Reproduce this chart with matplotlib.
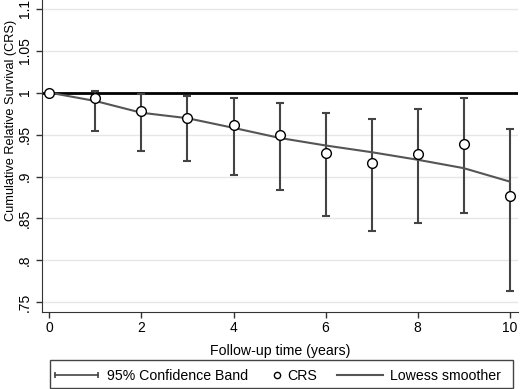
import matplotlib
matplotlib.use('Agg')
import matplotlib.pyplot as plt
from matplotlib.lines import Line2D
from matplotlib.patches import Rectangle
from matplotlib.ticker import FuncFormatter

plt.rcParams['font.family'] = ['Liberation Sans', 'DejaVu Sans']

# data
years = [0, 1, 2, 3, 4, 5, 6, 7, 8, 9, 10]
crs = [1.0, 0.993, 0.978, 0.970, 0.961, 0.950, 0.928, 0.916, 0.927, 0.939, 0.877]
ci_low = [1.0, 0.954, 0.931, 0.918, 0.902, 0.884, 0.853, 0.835, 0.845, 0.856, 0.763]
ci_high = [1.0, 1.002, 0.998, 0.9965, 0.993, 0.988, 0.976, 0.969, 0.981, 0.994, 0.957]
lowess = [1.0, 0.990, 0.976, 0.9695, 0.958, 0.946, 0.937, 0.929, 0.920, 0.910, 0.894]
yticks = [0.75, 0.8, 0.85, 0.9, 0.95, 1.0, 1.05, 1.1]
xticks = [0, 2, 4, 6, 8, 10]
legend_labels = ['95% Confidence Band', 'CRS', 'Lowess smoother']

W, H = 520, 389
fig = plt.figure(figsize=(W / 100, H / 100), dpi=100)
ax = fig.add_axes([0.080, 0.199, 0.916, 0.801])

for y in yticks:
    ax.axhline(y, color='#e6e6e6', lw=1, zorder=0)

ax.axhline(1.0, color='black', lw=2, zorder=2)

err_lo = [c - l for c, l in zip(crs, ci_low)]
err_hi = [h - c for c, h in zip(crs, ci_high)]
ax.errorbar(years[1:], crs[1:], yerr=[err_lo[1:], err_hi[1:]], fmt='none',
            ecolor='#444444', elinewidth=1.5, capsize=3, capthick=1.5, zorder=3)
ax.plot(years, lowess, color='#555555', lw=1.5, zorder=4)
ax.plot(years, crs, 'o', mfc='white', mec='black', mew=1.0, ms=7, zorder=5)

ax.set_xlim(-0.17, 10.18)
ax.set_ylim(0.739, 1.1104)
ax.set_xticks(xticks)
ax.set_yticks(yticks)

def fmt(v, pos):
    s = ('%.2f' % v).rstrip('0').rstrip('.')
    if s.startswith('0'):
        s = s[1:]
    return s

ax.yaxis.set_major_formatter(FuncFormatter(fmt))
for lab in ax.get_yticklabels():
    lab.set_rotation(90)
    lab.set_va('center')
ax.tick_params(axis='both', labelsize=10, color='#333333', length=4, width=1)
ax.tick_params(axis='y', pad=3)
ax.tick_params(axis='x', pad=3)

for s in ['top', 'right']:
    ax.spines[s].set_visible(False)
ax.spines['left'].set_color('#333333')
ax.spines['bottom'].set_color('#333333')

ax.set_xlabel('Follow-up time (years)', fontsize=10.2, labelpad=6)
ax.set_ylabel('Cumulative Relative Survival (CRS)', fontsize=9.2)
ax.yaxis.set_label_coords(-0.052, 0.615)

# legend box drawn by hand, Stata style (pixel positions -> figure fraction)
def fx(x):
    return x / W

def fy(y):
    return 1 - y / H

fig.patches.append(Rectangle((fx(50), fy(388)), fx(513) - fx(50), fy(360) - fy(388),
                             transform=fig.transFigure, fill=False,
                             edgecolor='#444444', lw=1))
ly = fy(375)
fig.lines.append(Line2D([fx(55), fx(98)], [ly, ly], transform=fig.transFigure,
                        color='#444444', lw=1.2, marker='|', ms=5, mew=1.2))
fig.lines.append(Line2D([fx(277)], [ly], transform=fig.transFigure, ls='none',
                        marker='o', mfc='white', mec='black', ms=4.5, mew=1.0))
fig.lines.append(Line2D([fx(337), fx(383)], [ly, ly], transform=fig.transFigure,
                        color='#555555', lw=1.5))
for x, t in zip([107, 287, 390], legend_labels):
    fig.text(fx(x), fy(376), t, fontsize=10.2, va='center', ha='left')

fig.savefig('out.png', dpi=100)
